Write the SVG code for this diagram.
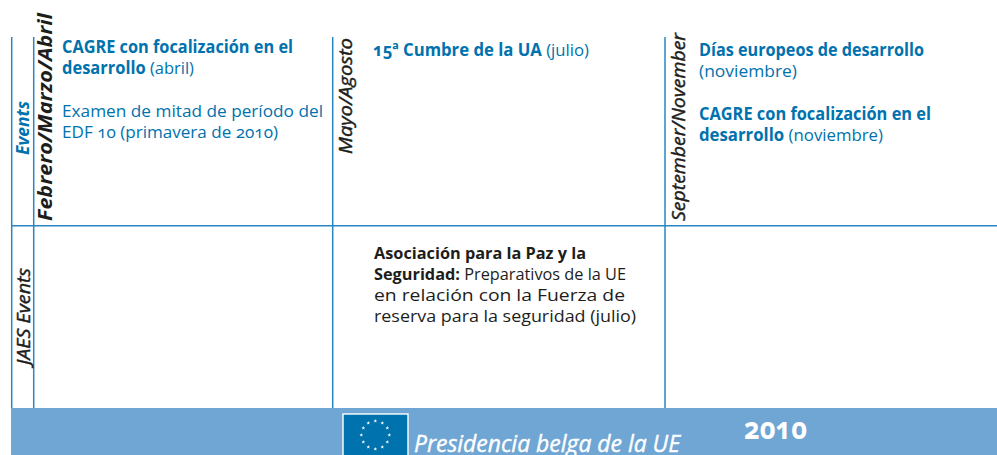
<svg xmlns="http://www.w3.org/2000/svg" width="997" height="455" viewBox="0 0 997 455">
<style>
text{font-family:"Open Sans","Noto Sans","Liberation Sans",sans-serif;font-size:17px;font-feature-settings:"onum";font-variant-numeric:oldstyle-nums}
.b{fill:#0072ae}.k{fill:#1d1d1b}
.bd{font-weight:700}
.v{font-style:italic;font-size:19px;font-weight:700}
.w{font-style:italic;font-size:19px;font-weight:400;stroke:#1d1d1b;stroke-width:.45}
.g{stroke:#2a86c3;stroke-width:1.5;fill:none}
</style>
<defs><polygon id="s" fill="#fff" points="0,-2 .5,-.6 1.9,-.6 .8,.2 1.2,1.6 0,.8 -1.2,1.6 -.8,.2 -1.9,-.6 -.5,-.6"/></defs>
<rect width="997" height="455" fill="#fff"/>
<g id="grid" class="g">
<path d="M11.7 37V408M33.7 37V408M332.7 37V408M665 37V408M11.7 225.7H997"/>
</g>
<g id="band">
<rect x="11" y="408" width="986" height="47" fill="#6fa6d3"/>
<rect x="343" y="414" width="65" height="42" fill="#0072ae" stroke="#fff" stroke-width="1.4"/>
<g id="stars">
<use href="#s" x="375.3" y="421"/><use href="#s" x="382.3" y="423"/><use href="#s" x="387.3" y="428"/><use href="#s" x="389.3" y="435"/><use href="#s" x="387.3" y="442"/><use href="#s" x="382.3" y="447"/><use href="#s" x="375.3" y="449"/><use href="#s" x="368.3" y="447"/><use href="#s" x="363.3" y="442"/><use href="#s" x="361.3" y="435"/><use href="#s" x="363.3" y="428"/><use href="#s" x="368.3" y="423"/>
</g>
<text x="414" y="451.5" fill="#fff" stroke="#fff" stroke-width=".4" textLength="266" lengthAdjust="spacingAndGlyphs" style="font-size:23px;font-style:italic">Presidencia belga de la UE</text>
<text x="744" y="439" fill="#fff" textLength="63" lengthAdjust="spacingAndGlyphs" style="font-size:30px;font-weight:700">2010</text>
</g>
<g id="labels">
<text class="b v" transform="translate(29,155) rotate(-90)" textLength="54" lengthAdjust="spacingAndGlyphs" style="font-size:18px">Events</text>
<text class="k v" transform="translate(52,221) rotate(-90)" textLength="208" lengthAdjust="spacingAndGlyphs">Febrero/Marzo/Abril</text>
<text class="k w" transform="translate(352,154) rotate(-90)" textLength="116" lengthAdjust="spacingAndGlyphs">Mayo/Agosto</text>
<text class="k w" transform="translate(685,221) rotate(-90)" textLength="188" lengthAdjust="spacingAndGlyphs">September/November</text>
<text class="k w" transform="translate(30,365) rotate(-90)" textLength="97" lengthAdjust="spacingAndGlyphs">JAES Events</text>
</g>
<g id="cell-feb">
<text class="b" x="62" y="53" textLength="231" lengthAdjust="spacingAndGlyphs"><tspan class="bd">CAGRE con focalización en el</tspan></text>
<text class="b" x="62" y="74" textLength="132" lengthAdjust="spacingAndGlyphs"><tspan class="bd">desarrollo</tspan> (abril)</text>
<text class="b" x="62" y="117" textLength="261" lengthAdjust="spacingAndGlyphs">Examen de mitad de período del</text>
<text class="b" x="62" y="138" textLength="216" lengthAdjust="spacingAndGlyphs">EDF 10 (primavera de 2010)</text>
</g>
<g id="cell-may">
<text class="b" x="373" y="56" textLength="216" lengthAdjust="spacingAndGlyphs"><tspan class="bd">15ª Cumbre de la UA</tspan> (julio)</text>
</g>
<g id="cell-sep">
<text class="b" x="699" y="56" textLength="225" lengthAdjust="spacingAndGlyphs"><tspan class="bd">Días europeos de desarrollo</tspan></text>
<text class="b" x="699" y="77" textLength="98" lengthAdjust="spacingAndGlyphs">(noviembre)</text>
<text class="b" x="699" y="120" textLength="232" lengthAdjust="spacingAndGlyphs"><tspan class="bd">CAGRE con focalización en el</tspan></text>
<text class="b" x="699" y="141" textLength="184" lengthAdjust="spacingAndGlyphs"><tspan class="bd">desarrollo</tspan> (noviembre)</text>
</g>
<g id="cell-jaes">
<text class="k" x="374" y="259" textLength="212" lengthAdjust="spacingAndGlyphs" style="font-size:16px"><tspan class="bd">Asociación para la Paz y la</tspan></text>
<text class="k" x="374" y="280" textLength="252" lengthAdjust="spacingAndGlyphs" style="font-size:16px"><tspan class="bd">Seguridad:</tspan> Preparativos de la UE</text>
<text class="k" x="374" y="301" textLength="251" lengthAdjust="spacingAndGlyphs" style="font-size:16px">en relación con la Fuerza de</text>
<text class="k" x="374" y="322" textLength="262" lengthAdjust="spacingAndGlyphs" style="font-size:16px">reserva para la seguridad (julio)</text>
</g>
</svg>
